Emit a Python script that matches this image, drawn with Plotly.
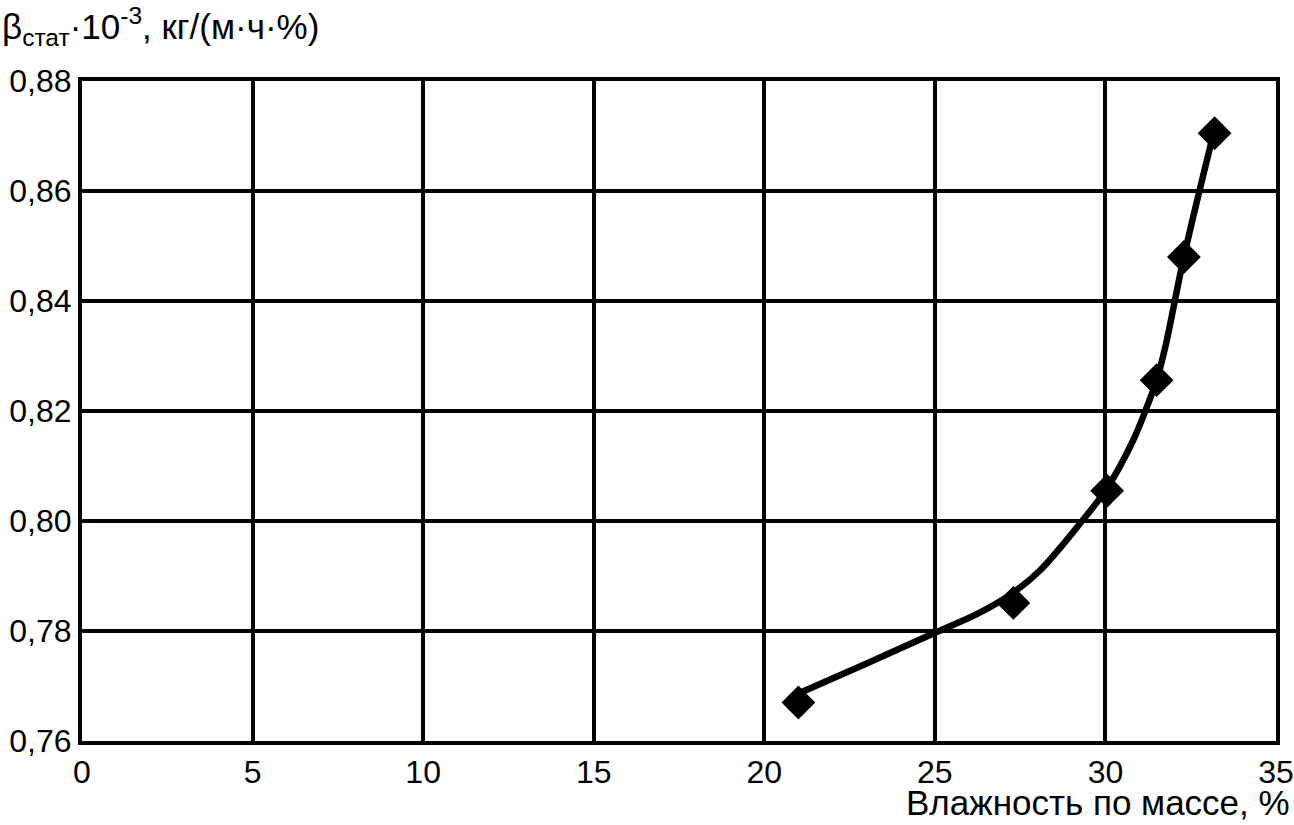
import plotly.graph_objects as go

# measured points
moisture = [21.0, 27.3, 30.05, 31.5, 32.3, 33.2]
beta = [0.7670, 0.7851, 0.8055, 0.8256, 0.8480, 0.8705]

# smoothed trend curve as drawn
trend_x = [21.1, 23.0, 24.94, 26.3, 27.28, 28.08, 29.25, 30.05, 30.8, 31.2, 31.5, 31.75, 32.3, 33.15]
trend_y = [0.7689, 0.7741, 0.7795, 0.7833, 0.7869, 0.7910, 0.7995, 0.8060, 0.8145, 0.8205, 0.8256, 0.8315, 0.8480, 0.8700]

x_ticks = [0, 5, 10, 15, 20, 25, 30, 35]
y_ticks = [0.76, 0.78, 0.80, 0.82, 0.84, 0.86, 0.88]

FONT = "Liberation Sans, Arial, sans-serif"
FS = 32
TS = 35

fig = go.Figure()
fig.add_trace(go.Scatter(x=trend_x, y=trend_y, mode="lines",
                         line=dict(color="black", width=6.5, shape="spline", smoothing=1.0),
                         hoverinfo="skip", showlegend=False))
fig.add_trace(go.Scatter(x=moisture, y=beta, mode="markers",
                         marker=dict(symbol="diamond", size=26, color="black"),
                         showlegend=False))

fig.update_layout(
    width=1294, height=825,
    margin=dict(l=82, r=18, t=81, b=84, autoexpand=False),
    paper_bgcolor="white", plot_bgcolor="white",
    separators=", ",
    font=dict(family=FONT, size=FS, color="black"),
    xaxis=dict(range=[0, 35], tickvals=x_ticks, showgrid=True, gridcolor="black", gridwidth=4,
               showline=True, linecolor="black", linewidth=4, mirror=True, zeroline=False,
               ticks="", ticklen=0, automargin=False, tickfont=dict(size=FS, family=FONT)),
    yaxis=dict(range=[0.76, 0.88], tickvals=y_ticks, tickformat=".2f", showgrid=True,
               gridcolor="black", gridwidth=4, showline=True, linecolor="black", linewidth=4,
               mirror=True, zeroline=False, ticks="", ticklen=0, automargin=False,
               ticklabelstandoff=0, tickfont=dict(size=FS, family=FONT)),
    annotations=[
        dict(text="β<sub>стат</sub>·10<sup>-3</sup>, кг/(м·ч·%)", xref="paper", yref="paper",
             x=-82/1194, y=1.0, yshift=28, xanchor="left", yanchor="bottom", showarrow=False,
             font=dict(size=TS, family=FONT)),
        dict(text="Влажность по массе, %", xref="paper", yref="paper",
             x=1.0, y=0, xshift=16, yshift=-40, xanchor="right", yanchor="top", showarrow=False,
             font=dict(size=TS, family=FONT)),
    ],
)

fig.write_html("out.html", config={"displayModeBar": False},
               post_script="document.body.style.margin='0';")
